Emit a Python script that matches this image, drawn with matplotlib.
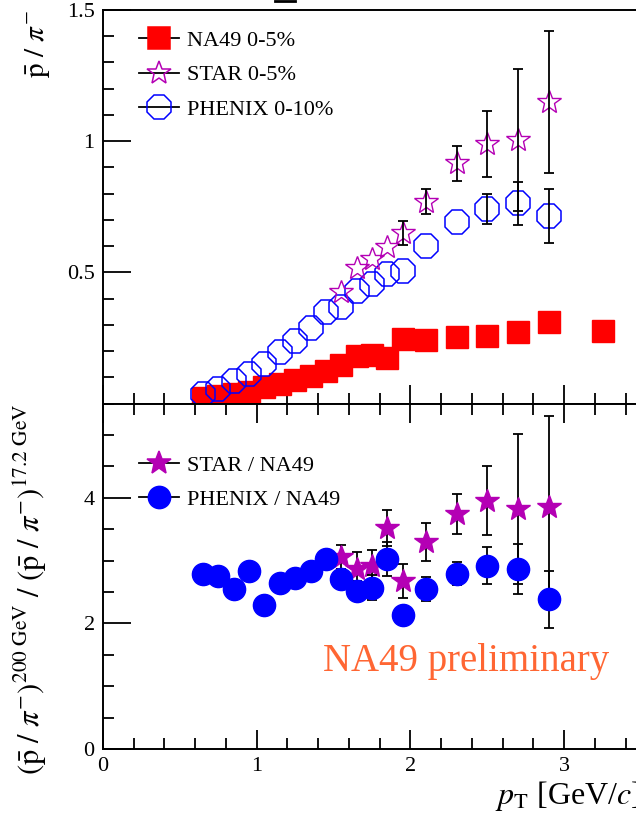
import matplotlib
matplotlib.use('Agg')
import matplotlib.pyplot as plt
from matplotlib.lines import Line2D
from matplotlib.ticker import MultipleLocator, FixedLocator

plt.rcParams['font.family'] = ['Liberation Serif', 'DejaVu Serif']
plt.rcParams['mathtext.fontset'] = 'stix'

# --- top panel: pbar/pi- vs pT
na49_x = [0.65, 0.75, 0.85, 0.95, 1.05, 1.15, 1.25, 1.35, 1.45, 1.55, 1.65, 1.75, 1.85, 1.95,
          2.1, 2.3, 2.5, 2.7, 2.9, 3.25]
na49_y = [0.022, 0.028, 0.038, 0.045, 0.062, 0.075, 0.089, 0.104, 0.122, 0.148, 0.18, 0.186,
          0.172, 0.247, 0.243, 0.255, 0.256, 0.273, 0.31, 0.276]

star_x = [1.55, 1.65, 1.75, 1.85, 1.95, 2.1, 2.3, 2.5, 2.7, 2.9]
star_y = [0.425, 0.515, 0.55, 0.595, 0.65, 0.77, 0.915, 0.99, 1.005, 1.15]
star_err = [0.0, 0.0, 0.0, 0.0, 0.045, 0.048, 0.067, 0.125, 0.27, 0.27]

phenix_x = [0.65, 0.75, 0.85, 0.95, 1.05, 1.15, 1.25, 1.35, 1.45, 1.55, 1.65, 1.75, 1.85, 1.95,
            2.1, 2.3, 2.5, 2.7, 2.9]
phenix_y = [0.036, 0.055, 0.086, 0.112, 0.15, 0.196, 0.238, 0.287, 0.349, 0.367, 0.43, 0.455,
            0.493, 0.506, 0.60, 0.69, 0.74, 0.763, 0.714]
phenix_err = [0.0, 0.0, 0.0, 0.0, 0.0, 0.0, 0.0, 0.0, 0.0, 0.0, 0.0, 0.0,
              0.0, 0.0, 0.0, 0.0, 0.057, 0.083, 0.103]

# --- bottom panel: ratios 200 GeV / 17.2 GeV
rstar_y = [3.05, 2.87, 2.92, 3.52, 2.68, 3.29, 3.74, 3.95, 3.82, 3.85]
rstar_err = [0.19, 0.27, 0.24, 0.29, 0.27, 0.3, 0.32, 0.55, 1.2, 1.45]

rphenix_y = [2.79, 2.76, 2.55, 2.84, 2.29, 2.65, 2.73, 2.84, 3.03, 2.7, 2.52, 2.57, 3.03, 2.13,
             2.55, 2.79, 2.92, 2.87, 2.38]
rphenix_err = [0.0, 0.0, 0.0, 0.0, 0.0, 0.0, 0.0, 0.0, 0.0, 0.0, 0.15, 0.2, 0.27, 0.0,
               0.19, 0.18, 0.3, 0.4, 0.46]

RED = '#ff0000'
MAG = '#b400b4'
BLUE = '#0000ff'


def errbars(ax, x, y, err, z):
    # ROOT does not draw bars that hide inside the marker
    keep = [i for i in range(len(x)) if err[i] > 0]
    ax.errorbar([x[i] for i in keep], [y[i] for i in keep], yerr=[err[i] for i in keep],
                fmt='none', ecolor='k', elinewidth=1.3, capsize=3.5, capthick=1.3, zorder=z)


fig = plt.figure(figsize=(6.36, 8.24), dpi=100)
ax1 = fig.add_axes([103 / 636, 1 - 403.5 / 824, 538 / 636, 393.5 / 824])
ax2 = fig.add_axes([103 / 636, 1 - 749 / 824, 538 / 636, 345.5 / 824])

# top panel
ax1.plot(na49_x, na49_y, 's', ms=16.5, color=RED, mec=RED, zorder=2)
ax1.plot(phenix_x, phenix_y, '8', ms=18, mfc='none', mec=BLUE, mew=1.1, zorder=3)
errbars(ax1, phenix_x, phenix_y, phenix_err, 3.5)
ax1.plot(star_x, star_y, '*', ms=18, mfc='none', mec=MAG, mew=1.0, zorder=4)
errbars(ax1, star_x, star_y, star_err, 4.5)

ax1.set_xlim(0, 3.5)
ax1.set_ylim(0, 1.5)
ax1.yaxis.set_major_locator(FixedLocator([0.5, 1.0, 1.5]))
ax1.yaxis.set_major_formatter(matplotlib.ticker.FuncFormatter(lambda v, p: '%g' % v))
ax1.yaxis.set_minor_locator(MultipleLocator(0.1))
ax1.xaxis.set_major_locator(MultipleLocator(1))
ax1.xaxis.set_minor_locator(MultipleLocator(0.2))
ax1.tick_params(axis='x', labelbottom=False)
ax1.set_ylabel(r'$\bar{\mathrm{p}}\ /\ \pi^{-}$', fontsize=21, loc='top')
ax1.yaxis.set_label_coords(-0.095, 1.0)

def hnd(color, marker, ms, filled):
    line = Line2D([], [], color='k', lw=1.3)
    mk = Line2D([], [], ls='none', marker=marker, ms=ms, mec=color,
                mfc=color if filled else 'none', mew=1.1)
    return (line, mk)

ax1.legend([hnd(RED, 's', 16.5, True), hnd(MAG, '*', 18, False), hnd(BLUE, '8', 18, False)],
           ['NA49 0-5%', 'STAR 0-5%', 'PHENIX 0-10%'],
           loc='upper left', bbox_to_anchor=(0.067, 0.948), frameon=False, fontsize=16,
           handlelength=1.8, handletextpad=0.35, labelspacing=0.62, borderpad=0,
           borderaxespad=0)

# bottom panel
errbars(ax2, star_x, rstar_y, rstar_err, 2.5)
ax2.plot(star_x, rstar_y, '*', ms=18, color=MAG, mec=MAG, zorder=3)
errbars(ax2, phenix_x, rphenix_y, rphenix_err, 3.5)
ax2.plot(phenix_x, rphenix_y, 'o', ms=16, color=BLUE, mec=BLUE, zorder=4)

ax2.set_xlim(0, 3.5)
ax2.set_ylim(0, 5.5)
ax2.yaxis.set_major_locator(MultipleLocator(2))
ax2.yaxis.set_minor_locator(MultipleLocator(0.5))
ax2.xaxis.set_major_locator(MultipleLocator(1))
ax2.xaxis.set_minor_locator(MultipleLocator(0.2))
ax2.set_ylabel(r'$(\bar{\mathrm{p}}\ /\ \pi^{-})^{200\ \mathrm{GeV}}\ /\ '
               r'(\bar{\mathrm{p}}\ /\ \pi^{-})^{17.2\ \mathrm{GeV}}$', fontsize=22, loc='top')
ax2.yaxis.set_label_coords(-0.1, 1.0)
ax2.set_xlabel(r'$p_{\mathrm{T}}$ [GeV/$c$]', fontsize=23, loc='right', labelpad=2)

ax2.legend([hnd(MAG, '*', 18, True), hnd(BLUE, 'o', 16, True)],
           ['STAR / NA49', 'PHENIX / NA49'],
           loc='upper left', bbox_to_anchor=(0.067, 0.85), frameon=False, fontsize=16,
           handlelength=1.8, handletextpad=0.35, labelspacing=0.62, borderpad=0,
           borderaxespad=0)

ax2.text(0.408, 0.252, 'NA49 preliminary', transform=ax2.transAxes, color='#ff6633',
         fontsize=28, ha='left', va='center')

for ax in (ax1, ax2):
    for s in ax.spines.values():
        s.set_linewidth(1.4)
    ax.tick_params(which='both', direction='in', width=1.3, labelsize=16, colors='k',
                   left=True, bottom=True, top=(ax is ax2), right=False)
    ax.tick_params(which='major', length=14, pad=6)
    ax.tick_params(which='minor', length=8)
ax1.tick_params(axis='y', which='major', length=20)
ax2.tick_params(axis='y', which='major', length=20)

# bit of the cropped title above the frame
fig.add_artist(Line2D([275 / 636, 295 / 636], [1 - 1 / 824] * 2, color='k', lw=2))

fig.savefig('out.png', dpi=100)
